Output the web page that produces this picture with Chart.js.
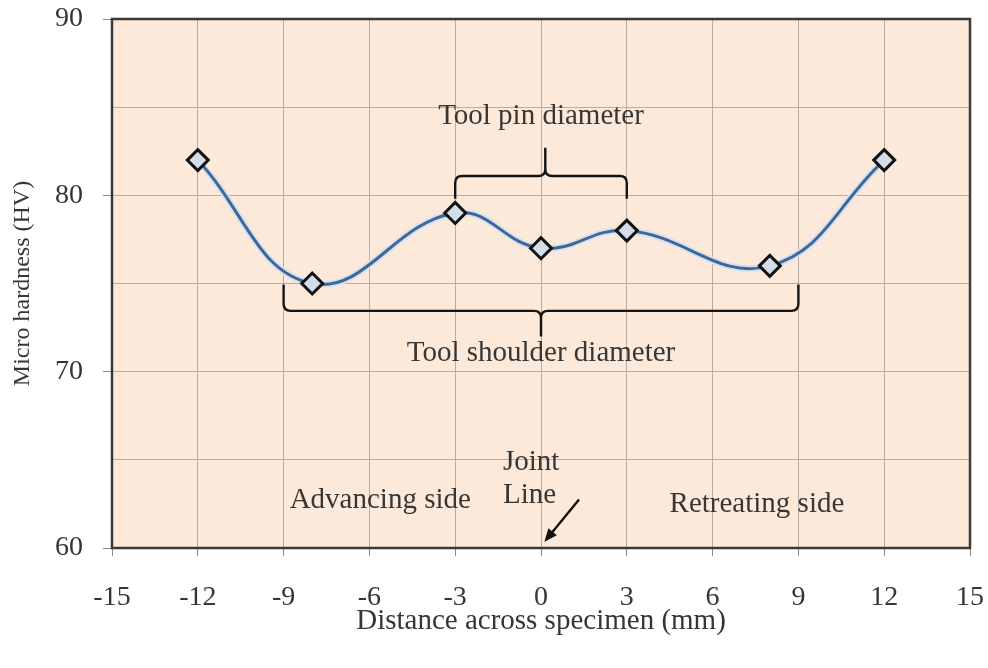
<!DOCTYPE html>
<html>
<head>
<meta charset="utf-8">
<script src="https://cdn.jsdelivr.net/npm/chart.js@4"></script>
<style>
  html, body { margin: 0; padding: 0; background: #ffffff; }
  canvas { display: block; }
</style>
</head>
<body>
<canvas id="c" width="988" height="668"></canvas>
<script>
// ---- data ----
const distances = [-12, -8, -3, 0, 3, 8, 12];
const hardness  = [82, 75, 79, 77, 78, 76, 82];
const xTicks = [-15, -12, -9, -6, -3, 0, 3, 6, 9, 12, 15];
const yTicks = [60, 70, 80, 90];
const xTitle = 'Distance across specimen (mm)';
const yTitle = 'Micro hardness (HV)';

const points = distances.map((x, i) => ({ x: x, y: hardness[i] }));

const SERIF = '"Liberation Serif", "Times New Roman", serif';
const TEXT = '#363636';

// annotation layout (data coordinates)
const notes = {
  pin:      { xL: -3, xR: 3, xM: 0.15, yLine: 81.1, yEnd: 79.8, yTip: 82.7, label: 'Tool pin diameter', lx: 0, ly: 84.45 },
  shoulder: { xL: -9, xR: 9, xM: 0, yLine: 73.45, yEnd: 74.95, yTip: 72.0, label: 'Tool shoulder diameter', lx: 0, ly: 71.05 },
  texts: [
    { t: 'Advancing side', x: -5.62, y: 62.72, align: 'center' },
    { t: 'Retreating side', x: 7.55, y: 62.45, align: 'center' },
    { t: 'Joint', x: -1.33, y: 64.85, align: 'left' },
    { t: 'Line',  x: -1.33, y: 62.98, align: 'left' }
  ],
  arrow: { x1: 1.33, y1: 62.75, x2: 0.12, y2: 60.35 }
};

const bgPlugin = {
  id: 'bg',
  beforeDraw(chart) {
    const { ctx, chartArea: a } = chart;
    ctx.save();
    ctx.fillStyle = '#ffffff';
    ctx.fillRect(0, 0, chart.width, chart.height);
    ctx.fillStyle = '#fde9da';
    ctx.fillRect(a.left, a.top, a.right - a.left, a.bottom - a.top);
    ctx.restore();
  },
  beforeDatasetsDraw(chart) {
    const { ctx, chartArea: a } = chart;
    ctx.save();
    ctx.strokeStyle = '#3a3a3a';
    ctx.lineWidth = 2.5;
    ctx.strokeRect(a.left, a.top, a.right - a.left, a.bottom - a.top);
    ctx.restore();
  }
};

function drawBracket(chart, b) {
  const { ctx, scales: { x, y } } = chart;
  const pL = x.getPixelForValue(b.xL), pR = x.getPixelForValue(b.xR), pM = x.getPixelForValue(b.xM);
  const yl = y.getPixelForValue(b.yLine), ye = y.getPixelForValue(b.yEnd), yt = y.getPixelForValue(b.yTip);
  const r = 7;
  const se = Math.sign(ye - yl);
  const st = Math.sign(yt - yl);
  ctx.beginPath();
  ctx.moveTo(pL, ye);
  ctx.lineTo(pL, yl + se * r);
  ctx.quadraticCurveTo(pL, yl, pL + r, yl);
  ctx.lineTo(pM - r, yl);
  ctx.quadraticCurveTo(pM, yl, pM, yl + st * r);
  ctx.lineTo(pM, yt);
  ctx.moveTo(pR, ye);
  ctx.lineTo(pR, yl + se * r);
  ctx.quadraticCurveTo(pR, yl, pR - r, yl);
  ctx.lineTo(pM + r, yl);
  ctx.quadraticCurveTo(pM, yl, pM, yl + st * r);
  ctx.stroke();
  ctx.fillText(b.label, x.getPixelForValue(b.lx), y.getPixelForValue(b.ly));
}

const notesPlugin = {
  id: 'notes',
  afterDatasetsDraw(chart) {
    const { ctx, scales: { x, y } } = chart;
    ctx.save();
    ctx.strokeStyle = '#141414';
    ctx.fillStyle = TEXT;
    ctx.lineWidth = 2.4;
    ctx.lineJoin = 'round';
    ctx.font = '29px ' + SERIF;
    ctx.textAlign = 'center';
    ctx.textBaseline = 'middle';
    drawBracket(chart, notes.pin);
    drawBracket(chart, notes.shoulder);
    notes.texts.forEach(n => {
      ctx.textAlign = n.align;
      ctx.fillText(n.t, x.getPixelForValue(n.x), y.getPixelForValue(n.y));
    });
    const a = notes.arrow;
    const x1 = x.getPixelForValue(a.x1), y1 = y.getPixelForValue(a.y1);
    const x2 = x.getPixelForValue(a.x2), y2 = y.getPixelForValue(a.y2);
    const ang = Math.atan2(y2 - y1, x2 - x1);
    const hl = 13, hw = 5.5;
    ctx.strokeStyle = '#111';
    ctx.lineWidth = 2.4;
    ctx.beginPath();
    ctx.moveTo(x1, y1);
    ctx.lineTo(x2 - Math.cos(ang) * hl * 0.8, y2 - Math.sin(ang) * hl * 0.8);
    ctx.stroke();
    ctx.fillStyle = '#111';
    ctx.beginPath();
    ctx.moveTo(x2, y2);
    ctx.lineTo(x2 - Math.cos(ang) * hl + Math.sin(ang) * hw, y2 - Math.sin(ang) * hl - Math.cos(ang) * hw);
    ctx.lineTo(x2 - Math.cos(ang) * hl - Math.sin(ang) * hw, y2 - Math.sin(ang) * hl + Math.cos(ang) * hw);
    ctx.closePath();
    ctx.fill();
    ctx.restore();
  }
};

new Chart(document.getElementById('c'), {
  type: 'line',
  data: {
    datasets: [
      {
        label: 'Micro hardness',
        data: points,
        borderColor: '#3f6896',
        borderWidth: 3,
        tension: 0.42,
        pointStyle: 'rectRot',
        pointRadius: 10.5,
        pointBorderWidth: 3,
        pointBorderColor: '#121212',
        pointBackgroundColor: '#d3dde9',
        fill: false
      },
      {
        label: 'glow',
        data: points,
        borderColor: 'rgba(214,226,240,0.95)',
        borderWidth: 7,
        tension: 0.42,
        pointRadius: 0,
        fill: false
      }
    ]
  },
  plugins: [bgPlugin, notesPlugin],
  options: {
    responsive: false,
    animation: false,
    events: [],
    layout: { padding: { top: 19, right: 18, left: 0, bottom: 0 } },
    plugins: { legend: { display: false }, tooltip: { enabled: false } },
    scales: {
      x: {
        type: 'linear',
        min: -15, max: 15,
        afterFit(s) { s.height = 120; s.paddingLeft = 0; s.paddingRight = 0; },
        afterBuildTicks(s) { s.ticks = xTicks.map(v => ({ value: v })); },
        border: { display: false },
        grid: { color: '#b9aca2', lineWidth: 1, tickLength: 8, tickColor: '#8a8a8a' },
        ticks: { color: TEXT, padding: 25, font: { family: SERIF, size: 28 }, maxRotation: 0 },
        title: { display: true, text: xTitle, color: TEXT, font: { family: SERIF, size: 29 }, padding: { top: 0, bottom: 29 } }
      },
      y: {
        type: 'linear',
        min: 60, max: 90,
        afterFit(s) { s.width = 112; s.paddingTop = 0; s.paddingBottom = 0; },
        afterBuildTicks(s) { s.ticks = [60, 65, 70, 75, 80, 85, 90].map(v => ({ value: v })); },
        border: { display: false },
        grid: {
          color: '#b9aca2', lineWidth: 1, tickLength: 9,
          tickColor: c => (yTicks.includes(c.tick.value) ? '#8a8a8a' : 'rgba(0,0,0,0)')
        },
        ticks: {
          color: TEXT, padding: 20, font: { family: SERIF, size: 28 },
          callback: v => (yTicks.includes(v) ? String(v) : '')
        },
        title: { display: true, text: yTitle, color: TEXT, font: { family: SERIF, size: 24 }, padding: { top: 8, bottom: 0 } }
      }
    }
  }
});
</script>
</body>
</html>
